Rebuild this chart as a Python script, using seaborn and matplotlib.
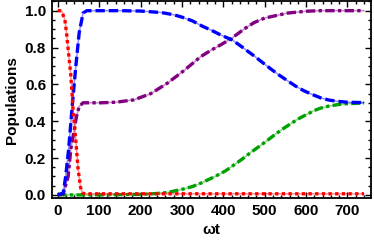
import pandas as pd
import seaborn as sns
import matplotlib.pyplot as plt
from matplotlib.ticker import MultipleLocator

# values
red_t = [0, 5, 10, 17, 21, 25, 31, 37, 44, 49, 55, 60, 66, 150, 300, 450,
         600, 740]
red_v = [1.0, 1.0, 0.995, 0.95, 0.88, 0.79, 0.66, 0.46, 0.28, 0.14, 0.04,
         0.01, 0.006, 0.006, 0.006, 0.006, 0.006, 0.006]

blue_t = [0, 13, 19, 26, 35.5, 43.6, 51.6, 61, 70, 150, 200, 250, 280, 300,
          325, 350, 370, 392, 422, 441, 474, 494, 514, 535, 555, 575, 595,
          615, 635, 655, 676, 700, 740]
blue_v = [0.0, 0.01, 0.1, 0.245, 0.5, 0.70, 0.88, 0.987, 1.0, 1.0, 0.998,
          0.99, 0.978, 0.965, 0.945, 0.915, 0.895, 0.87, 0.84, 0.81, 0.755,
          0.72, 0.685, 0.65, 0.62, 0.59, 0.565, 0.545, 0.527, 0.515, 0.508,
          0.503, 0.501]

purple_t = [0, 13, 25, 31.5, 38.7, 45, 51.6, 61, 104, 140, 184, 225, 265,
            305, 345, 370, 394, 420, 450, 474, 500, 555, 600, 635, 740]
purple_v = [0.0, 0.005, 0.1, 0.25, 0.34, 0.425, 0.48, 0.5, 0.5, 0.503, 0.516,
            0.55, 0.607, 0.675, 0.75, 0.785, 0.815, 0.85, 0.9, 0.935, 0.96,
            0.987, 0.997, 1.0, 1.0]

green_t = [0, 100, 200, 235, 265, 300, 325, 345, 380, 405, 426, 446, 466,
           486, 506, 525, 545, 562, 579, 600, 620, 635, 655, 676, 700, 740]
green_v = [0.0, 0.0, 0.003, 0.007, 0.013, 0.03, 0.045, 0.063, 0.10, 0.13,
           0.163, 0.195, 0.23, 0.262, 0.295, 0.328, 0.36, 0.385, 0.41, 0.435,
           0.458, 0.471, 0.482, 0.49, 0.495, 0.499]

sns.set_style("ticks")
plt.rcParams['font.family'] = ['Liberation Sans', 'DejaVu Sans']
plt.rcParams['font.weight'] = 'bold'
plt.rcParams['text.color'] = 'black'
plt.rcParams['axes.labelcolor'] = 'black'
plt.rcParams['xtick.color'] = 'black'
plt.rcParams['ytick.color'] = 'black'
plt.rcParams['axes.edgecolor'] = 'black'

fig = plt.figure(figsize=(3.74, 2.46), dpi=100)
ax = fig.add_axes([0.138, 0.195, 0.853, 0.799])

series = [
    (green_t, green_v, '#00a000', (0, (2.6, 1.0, 1.0, 1.0))),
    (purple_t, purple_v, '#800080', (0, (2.8, 1.0, 1.0, 1.0))),
    (blue_t, blue_v, '#0000ff', (0, (2.8, 1.2))),
    (red_t, red_v, '#ff0000', (0, (1.0, 1.0))),
]

for t, v, c, ls in series:
    df = pd.DataFrame({'t': t, 'v': v})
    # thin solid line underneath
    sns.lineplot(data=df, x='t', y='v', color=c, lw=1.1, alpha=0.45, ax=ax)
    # thick dashed line on top
    sns.lineplot(data=df, x='t', y='v', color=c, lw=2.4, linestyle=ls, ax=ax)

ax.set_xlim(-15, 756)
ax.set_ylim(-0.017, 1.05)
ax.xaxis.set_major_locator(MultipleLocator(100))
ax.xaxis.set_minor_locator(MultipleLocator(20))
ax.yaxis.set_major_locator(MultipleLocator(0.2))
ax.yaxis.set_minor_locator(MultipleLocator(0.05))
ax.yaxis.set_major_formatter(plt.FormatStrFormatter('%.1f'))

ax.tick_params(which='both', direction='in', top=True, right=True,
               labelsize=11, width=1.0)
ax.tick_params(which='major', length=4, pad=4)
ax.tick_params(which='minor', length=2)
for s in ax.spines.values():
    s.set_linewidth(1.3)

ax.set_xlabel('ωt', fontsize=11, fontweight='bold', labelpad=4)
ax.set_ylabel('Populations', fontsize=11, fontweight='bold', labelpad=4)

plt.savefig('out.png', dpi=100)
